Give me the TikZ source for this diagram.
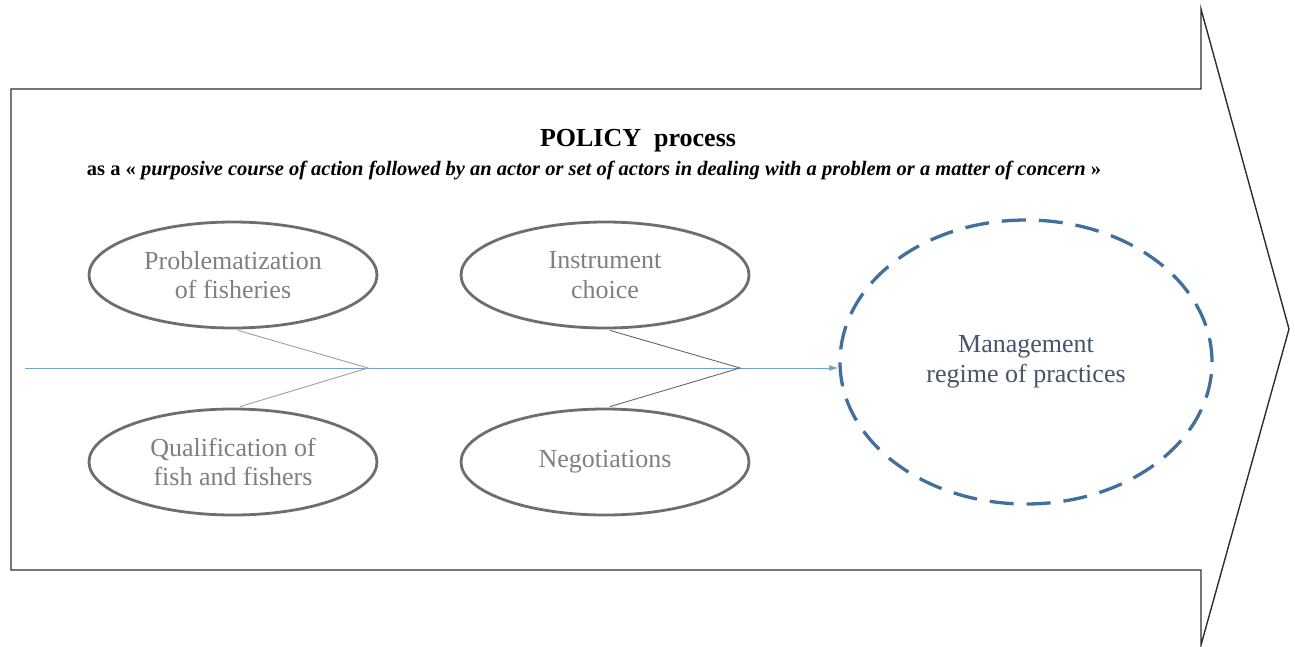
\documentclass[tikz,border=0pt]{standalone}
\usepackage{fontspec}
\setmainfont{Liberation Serif}
\usetikzlibrary{shapes.geometric,arrows.meta,calc}
\definecolor{ellgray}{HTML}{6E6E6E}
\definecolor{txtgray}{HTML}{7F7F7F}
\definecolor{dashblue}{HTML}{41709C}
\definecolor{lineblue}{HTML}{6FA0D8}
\definecolor{mgmttxt}{HTML}{44546A}
\definecolor{outline}{HTML}{2E2E2E}
\tikzset{
  stage/.style={ellipse, draw=ellgray, line width=2.8pt, minimum width=288pt, minimum height=106pt,
    inner sep=0pt, align=center, text=txtgray, font=\fontsize{26}{29.5}\selectfont},
  result/.style={ellipse, draw=dashblue, line width=3.3pt, dash pattern=on 24pt off 13pt,
    minimum width=372pt, minimum height=284pt, inner sep=0pt, align=center, text=mgmttxt,
    font=\fontsize{26}{30}\selectfont},
  zig/.style={line width=0.9pt},
  flow/.style={draw=lineblue, line width=0.9pt, -{Latex[length=9pt,width=6pt]}}
}
\begin{document}
\begin{tikzpicture}[x=1pt,y=-1pt]
\useasboundingbox (0,0) rectangle (1295,646);
% big arrow outline
\draw[outline, line width=1.4pt, line join=miter]
  (11,89) -- (1201,89) -- (1201,9) -- (1289,329) -- (1201,645) -- (1201,570) -- (11,570) -- cycle;
% title
\node (title) at (638,141) {\fontsize{26}{30}\selectfont\bfseries POLICY\ \ process};
\node (sub) at (594,170) {\fontsize{20.5}{24}\selectfont\bfseries as a « \textit{purposive course of action followed by an actor or set of actors in dealing with a problem or a matter of concern} »};
% stages
\node[stage] (e1) at (233,275) {Problematization\\of fisheries};
\node[stage] (e2) at (233,462) {Qualification of\\fish and fishers};
\node[stage] (e3) at (605,275) {Instrument\\choice};
\node[stage] (e4) at (605,462) {Negotiations};
\node[result] (m) at (1026,362) {Management\\regime of practices};
% flow line
\coordinate (start) at (25,368);
\coordinate (j1) at (368,368);
\coordinate (j2) at (740,368);
\draw[flow] (start) -- (m.west |- start);
% zigzag connectors
\draw[zig, draw=black!38] ($(e1.south)+(5,1)$) -- (j1) -- ($(e2.north)+(7,-1)$);
\draw[zig, draw=black!60] ($(e3.south)+(5,1)$) -- (j2) -- ($(e4.north)+(5,-1)$);
\end{tikzpicture}
\end{document}
